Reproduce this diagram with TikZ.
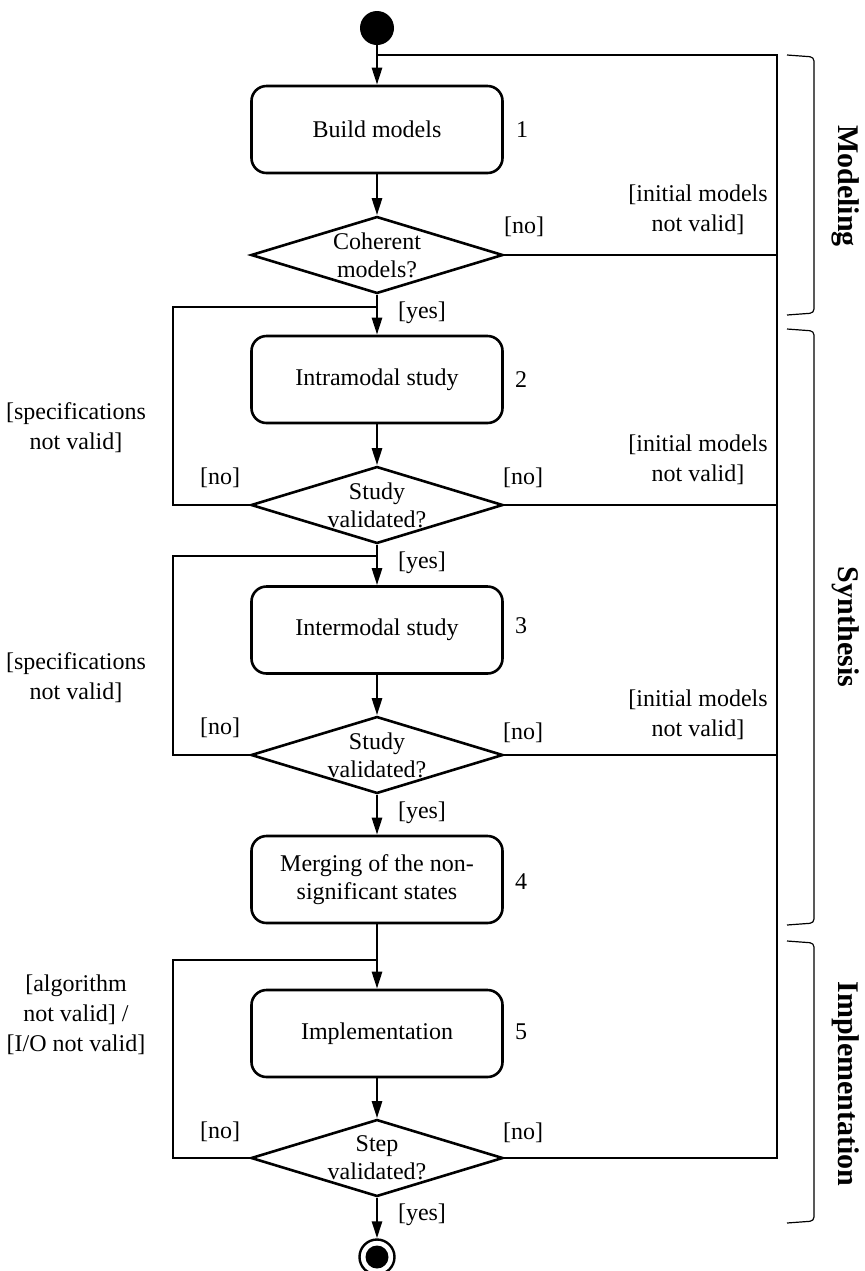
\documentclass[tikz,border=0pt]{standalone}
\usepackage{fontspec}
\setmainfont{Liberation Serif}
\usetikzlibrary{arrows.meta,positioning,shapes.geometric}

\begin{document}
\begin{tikzpicture}[x=0.5pt,y=-0.5pt,every node/.style={font=\fontsize{12}{15}\selectfont,align=center},
  act/.style={draw,rounded corners=7.5pt,line width=1.3pt,minimum width=125.5pt,minimum height=43.5pt,font=\fontsize{12}{14}\selectfont},
  dec/.style={draw,diamond,line width=1.3pt,minimum width=126pt,minimum height=38.5pt,inner sep=0pt},
  dtext/.style={font=\fontsize{12}{14}\selectfont},
  flow/.style={line width=1.3pt},
  arr/.style={flow,-{Triangle[length=8.5pt,width=5pt]}},
  brk/.style={line width=0.6pt,rounded corners=2pt},
  phase/.style={font=\bfseries\fontsize{15}{17}\selectfont,rotate=-90}]
\useasboundingbox (0,0) rectangle (865,1271);
\node[circle,fill,minimum size=17pt,inner sep=0pt] (start) at (377,28) {};
\coordinate (top) at (377,55);
\coordinate (rtop) at (777,55);
\coordinate (lx) at (173,0);
\node[act] (b1) at (377,129.5) {Build models};
\node (n1) at (522,130) {1};
\node[dec] (d1) at (377,255) {};
\node[dtext] (t1) at (d1) {Coherent\\models?};
\node[act] (b2) at (377,379.5) {Intramodal study};
\node (n2) at (521,380) {2};
\node[dec] (d2) at (377,505) {};
\node[dtext] (t2) at (d2) {Study\\validated?};
\node[act] (b3) at (377,630) {Intermodal study};
\node (n3) at (521,626) {3};
\node[dec] (d3) at (377,755) {};
\node[dtext] (t3) at (d3) {Study\\validated?};
\node[act] (b4) at (377,879.5) {Merging of the non-\\significant states};
\node (n4) at (521,882) {4};
\node[act] (b5) at (377,1033.5) {Implementation};
\node (n5) at (521,1032) {5};
\node[dec] (d5) at (377,1158) {};
\node[dtext] (t5) at (d5) {Step\\validated?};
\node[circle,draw,fill=white,line width=1.2pt,minimum size=17.5pt,inner sep=0pt] (end) at (377,1257) {};
\node[circle,fill,minimum size=11.5pt,inner sep=0pt] (endin) at (end) {};
\coordinate (l1) at (377,307);
\coordinate (l2) at (377,556);
\coordinate (l3) at (377,960);
\draw[arr] (start) -- (b1);
\draw[arr] (b1) -- (d1);
\draw[arr] (d1) -- (b2);
\draw[arr] (b2) -- (d2);
\draw[arr] (d2) -- (b3);
\draw[arr] (b3) -- (d3);
\draw[arr] (d3) -- (b4);
\draw[arr] (b4) -- (b5);
\draw[arr] (b5) -- (d5);
\draw[arr] (d5) -- (end);
\draw[flow] (d5.east) -| (rtop) -- (top);
\draw[flow] (d1.east) -- (d1.east -| rtop);
\draw[flow] (d2.east) -- (d2.east -| rtop);
\draw[flow] (d3.east) -- (d3.east -| rtop);
\draw[flow] (d2.west) -- (d2.west -| lx) |- (l1);
\draw[flow] (d3.west) -- (d3.west -| lx) |- (l2);
\draw[flow] (d5.west) -- (d5.west -| lx) |- (l3);
\node (no1) at (524,227) {[no]};
\node (g1) at (698,210) {[initial models\\not valid]};
\node (y1) at (422,313) {[yes]};
\node (no2l) at (220,478) {[no]};
\node (no2r) at (523,478) {[no]};
\node (g2) at (698,460) {[initial models\\not valid]};
\node (s2) at (76,428) {[specifications\\not valid]};
\node (y2) at (422,563) {[yes]};
\node (no3l) at (220,728) {[no]};
\node (no3r) at (523,733) {[no]};
\node (g3) at (698,715) {[initial models\\not valid]};
\node (s3) at (76,678) {[specifications\\not valid]};
\node (y3) at (422,813) {[yes]};
\node (no5l) at (220,1132) {[no]};
\node (no5r) at (523,1133) {[no]};
\node (s5) at (76,1015) {[algorithm\\not valid] /\\{[I/O not valid]}};
\node (y5) at (422,1215) {[yes]};
\draw[brk] (787,55) -- (814,57) -- (814,313) -- (787,315);
\draw[brk] (787,329) -- (814,331) -- (814,923) -- (787,925);
\draw[brk] (787,941) -- (814,943) -- (814,1221) -- (787,1223);
\node[phase] (p1) at (846,186) {Modeling};
\node[phase] (p2) at (846,627) {Synthesis};
\node[phase] (p3) at (846,1084) {Implementation};
\end{tikzpicture}
\end{document}
